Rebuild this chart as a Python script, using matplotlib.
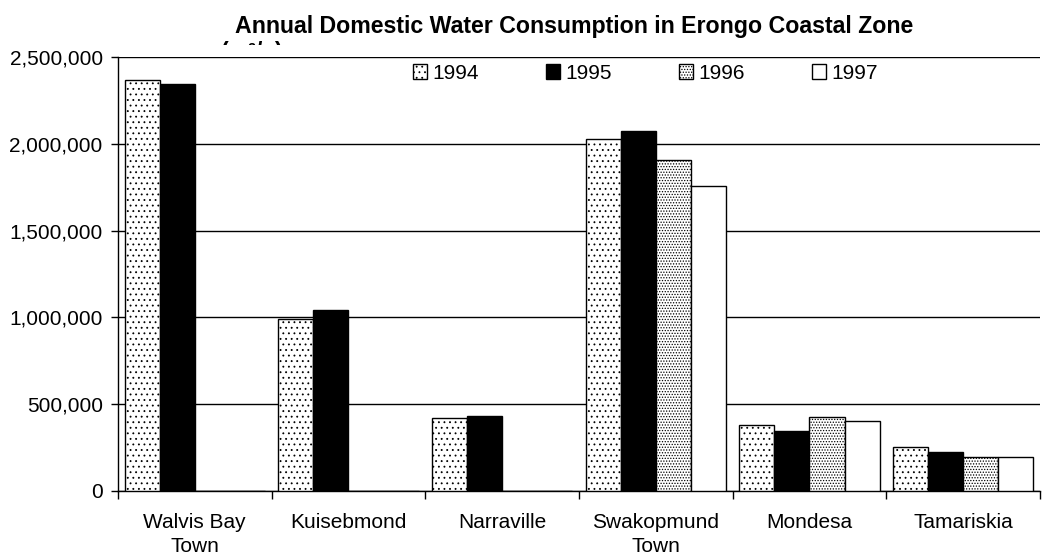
import numpy as np
import matplotlib.pyplot as plt
from matplotlib.patches import Rectangle
from matplotlib.ticker import FuncFormatter, FixedLocator

plt.rcParams['font.family'] = ['Liberation Sans', 'DejaVu Sans']
plt.rcParams['hatch.linewidth'] = 0.6

# Data
towns = ["Walvis Bay\nTown", "Kuisebmond", "Narraville", "Swakopmund\nTown", "Mondesa", "Tamariskia"]
years = ["1994", "1995", "1996", "1997"]
v1994 = [2367000, 991000, 420000, 2028000, 380000, 252000]
v1995 = [2344000, 1043000, 432000, 2074000, 346000, 223000]
v1996 = [0, 0, 0, 1907000, 424000, 194000]
v1997 = [0, 0, 0, 1759000, 405000, 194000]

series = [v1994, v1995, v1996, v1997]
faces = ["white", "black", "white", "white"]
hatches = ["...", None, "......", None]

fig = plt.figure(figsize=(10.43, 5.57), dpi=100)
ax = fig.add_axes([0.1131, 0.1185, 0.884, 0.7792])

x = np.arange(len(towns))
width = 0.228
for i, vals in enumerate(series):
    ax.bar(x + (i - 1.5) * width, vals, width, color=faces[i], edgecolor="black",
           hatch=hatches[i], linewidth=1.0, label=years[i], zorder=3)

ax.set_xlim(-0.5, len(towns) - 0.5)
ax.set_ylim(0, 2500000)
ax.set_yticks(np.arange(0, 2500001, 500000))
ax.yaxis.set_major_formatter(FuncFormatter(lambda v, p: f"{int(v):,}"))
ax.yaxis.grid(True, color="black", linewidth=1.0)
ax.set_axisbelow(True)

ax.set_xticks(x)
ax.set_xticklabels(towns, fontsize=15, linespacing=1.35)
ax.tick_params(axis="x", which="major", length=0, pad=16)
ax.xaxis.set_minor_locator(FixedLocator(np.arange(-0.5, len(towns), 1.0)))
ax.tick_params(axis="x", which="minor", length=6, width=1, direction="out")
ax.tick_params(axis="y", labelsize=15, length=5, width=1, direction="out", pad=6)

for s in ["top", "right"]:
    ax.spines[s].set_visible(False)
for s in ["left", "bottom"]:
    ax.spines[s].set_linewidth(1.0)

ax.legend(loc="center", bbox_to_anchor=(0.572, 0.962), ncol=4, frameon=False,
          fontsize=15, handlelength=0.7, handleheight=0.7, handletextpad=0.25,
          columnspacing=3.2, borderaxespad=0)

fig.text(0.550, 0.953, "Annual Domestic Water Consumption in Erongo Coastal Zone",
         ha="center", va="center", fontsize=16.7, fontweight="bold")
# second title line is cut off by the plot area in the original
sub = fig.text(0.212, 0.906, "(m³/a)", ha="left", va="center", fontsize=16.7,
               fontweight="bold")
sub.set_clip_path(Rectangle((0, 0.919), 1, 0.1, transform=fig.transFigure))

fig.savefig("out.png", dpi=100)
